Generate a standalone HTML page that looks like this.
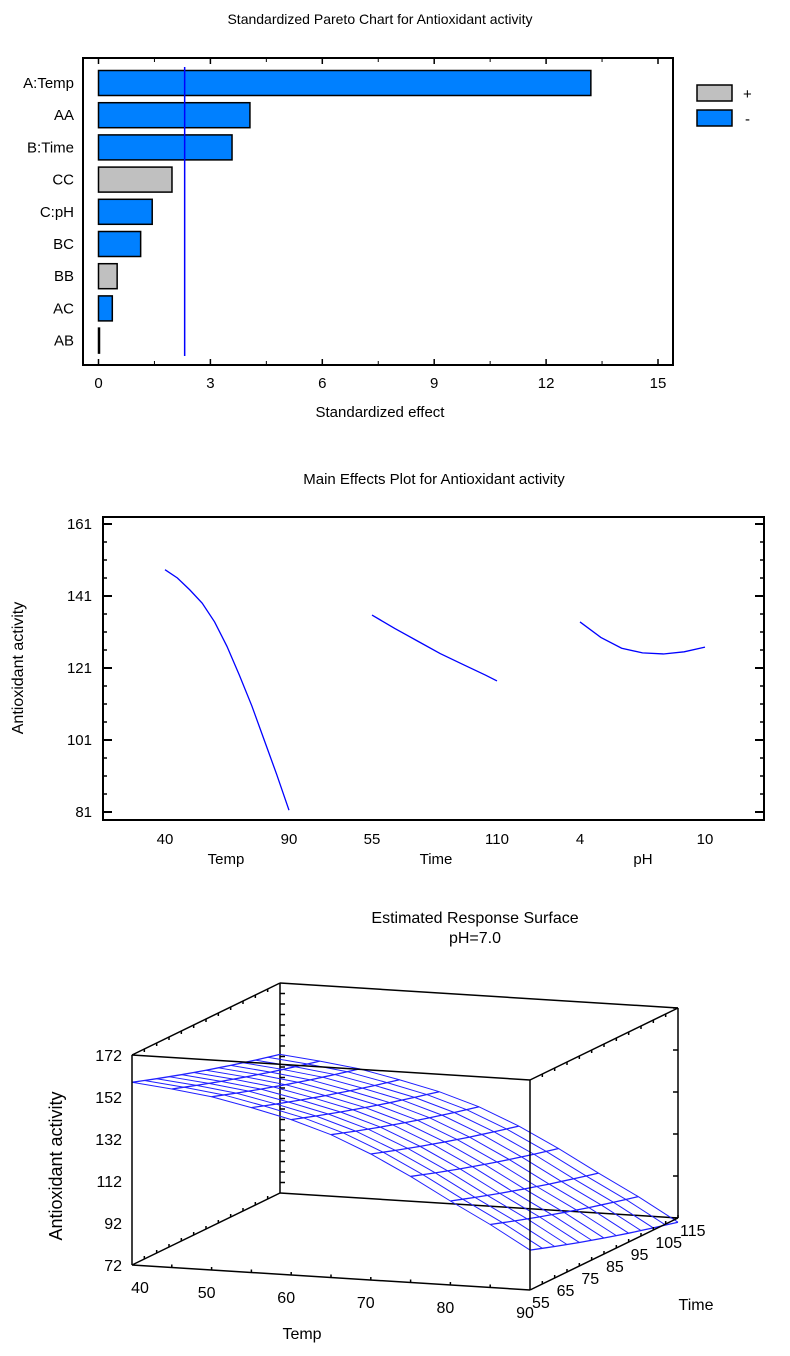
<!DOCTYPE html>
<html><head><meta charset="utf-8"><style>
body{margin:0;background:#fff;}
svg{display:block;font-family:"Liberation Sans",Arial,sans-serif;}
</style></head><body>
<svg id="root" width="790" height="1356" viewBox="0 0 790 1356" xmlns="http://www.w3.org/2000/svg">
<g id="pareto"></g>
<g id="main"></g>
<g id="surf"></g>
</svg>
<script>
// ---------- Pareto data ----------
const paretoTerms = ["A:Temp","AA","B:Time","CC","C:pH","BC","BB","AC","AB"];
const paretoEffects = [13.2,4.06,3.58,1.97,1.44,1.13,0.5,0.37,0.02];
const paretoSigns = ["-","-","-","+","-","-","+","-","-"];
const paretoTicks = [0,3,6,9,12,15];
const paretoCritical = 2.31;
// ---------- Main effects data ----------
const tempLevels = [40,45,50,55,60,65,70,75,80,85,90];
const tempEffect = [148.3,146,142.7,139,133.8,127,119,110.5,101,91.5,81.5];
const timeLevels = [55,65,75,85,95,105,110];
const timeEffect = [135.7,132,128.5,125,122,119,117.4];
const phLevels = [4,5,6,7,8,9,10];
const phEffect = [133.8,129.5,126.5,125.2,124.9,125.5,126.8];
const mainYTicks = [81,101,121,141,161];
// ---------- Surface data ----------
const surfTemps = [40,45,50,55,60,65,70,75,80,85,90];
const surfZAtTime55 = [159,157,154.5,150.5,146,140,132,122.5,112,102,91];
const surfTimes = [55,60,65,70,75,80,85,90,95,100,105,110,115];
const surfTimeShift = [0,-2,-4,-5.9,-7.8,-9.6,-11.4,-13.1,-14.8,-16.4,-18,-19.5,-21];
const surfZTicks = [72,92,112,132,152,172];
const surfTempTicks = [40,50,60,70,80,90];
const surfTimeTicks = [55,65,75,85,95,105,115];

const NS="http://www.w3.org/2000/svg";
function mk(parent,tag,attrs,text){const e=document.createElementNS(NS,tag);for(const k in attrs)e.setAttribute(k,attrs[k]);if(text!==undefined)e.textContent=text;parent.appendChild(e);return e;}

// ===== Pareto =====
(function(){
const g=document.getElementById('pareto');
const x=v=>98.5+v*37.3;
const rowY=i=>83+i*32.2;
let t=mk(g,'text',{x:380,y:24,'text-anchor':'middle','font-size':14});
t.textContent="Standardized Pareto Chart for Antioxidant activity";
let f=mk(g,'rect',{x:83,y:58,width:590,height:307,fill:'none',stroke:'#000','stroke-width':2});

paretoTicks.forEach(v=>{
  mk(g,'line',{x1:x(v),x2:x(v),y1:58,y2:64,stroke:'#000','stroke-width':1.5});
  mk(g,'line',{x1:x(v),x2:x(v),y1:359,y2:365,stroke:'#000','stroke-width':1.5});
  const l=mk(g,'text',{x:x(v),y:388,'text-anchor':'middle','font-size':15},String(v));
  
});
for(let v=1.5;v<15;v+=3){mk(g,'line',{x1:x(v),x2:x(v),y1:58,y2:62,stroke:'#000'});mk(g,'line',{x1:x(v),x2:x(v),y1:361,y2:365,stroke:'#000'});}
paretoTerms.forEach((name,i)=>{
  const b=mk(g,'rect',{x:x(0),y:rowY(i)-12.5,width:Math.max(1,x(paretoEffects[i])-x(0)),height:25,fill:paretoSigns[i]=='+'?'#c0c0c0':'#0080ff',stroke:'#000','stroke-width':1.5});
  
  const l=mk(g,'text',{x:74,y:rowY(i)+5,'text-anchor':'end','font-size':15},name);
  
});
const c=mk(g,'line',{x1:x(paretoCritical),x2:x(paretoCritical),y1:67,y2:356,stroke:'#0000ff','stroke-width':1.5});

const xt=mk(g,'text',{x:380,y:417,'text-anchor':'middle','font-size':15},"Standardized effect");

const lp=mk(g,'rect',{x:697,y:85,width:35,height:16,fill:'#c0c0c0',stroke:'#000','stroke-width':1.5});

const lm=mk(g,'rect',{x:697,y:110,width:35,height:16,fill:'#0080ff',stroke:'#000','stroke-width':1.5});

const t1=mk(g,'text',{x:743,y:99,'font-size':15},"+");
const t2=mk(g,'text',{x:745,y:124,'font-size':15},"-");
})();

// ===== Main effects =====
(function(){
const g=document.getElementById('main');
const y=v=>812-(v-81)*3.6;
const t=mk(g,'text',{x:434,y:484,'text-anchor':'middle','font-size':15},"Main Effects Plot for Antioxidant activity");

const f=mk(g,'rect',{x:103,y:517,width:661,height:303,fill:'none',stroke:'#000','stroke-width':2});

for(let v=81;v<=161;v+=5){const big=(v-81)%20==0;const len=big?9:4;
  mk(g,'line',{x1:103,x2:103+len,y1:y(v),y2:y(v),stroke:'#000','stroke-width':big?2:1.5});
  mk(g,'line',{x1:764-len,x2:764,y1:y(v),y2:y(v),stroke:'#000','stroke-width':big?2:1.5});}
mainYTicks.forEach(v=>{const l=mk(g,'text',{x:92,y:y(v)+5,'text-anchor':'end','font-size':15},String(v));});
const yt=mk(g,'text',{x:0,y:0,'text-anchor':'middle','font-size':16,transform:'translate(23,668) rotate(-90)'},"Antioxidant activity");

const groups=[
 {name:'temp',label:'Temp',lv:tempLevels,val:tempEffect,x0:165,x1:289,cx:226},
 {name:'time',label:'Time',lv:timeLevels,val:timeEffect,x0:372,x1:497,cx:436},
 {name:'ph',label:'pH',lv:phLevels,val:phEffect,x0:580,x1:705,cx:643}];
groups.forEach(gr=>{
  const a=gr.lv[0],b=gr.lv[gr.lv.length-1];
  const xf=v=>gr.x0+(v-a)/(b-a)*(gr.x1-gr.x0);
  const p=mk(g,'polyline',{points:gr.lv.map((v,i)=>xf(v)+','+y(gr.val[i])).join(' '),fill:'none',stroke:'#0000ff','stroke-width':1.3});
  
  [a,b].forEach(v=>{const l=mk(g,'text',{x:xf(v),y:844,'text-anchor':'middle','font-size':15},String(v));});
  const n=mk(g,'text',{x:gr.cx,y:864,'text-anchor':'middle','font-size':15},gr.label);
  
});
})();

// ===== Surface =====
(function(){
const g=document.getElementById('surf');
const P=(tp,tm,z)=>[132+(tp-40)/50*398+(tm-55)/60*148, 1265+(tp-40)/50*25-(tm-55)/60*72-(z-72)/100*210];
const t1=mk(g,'text',{x:475,y:923,'text-anchor':'middle','font-size':16},"Estimated Response Surface");

const t2=mk(g,'text',{x:475,y:943,'text-anchor':'middle','font-size':16},"pH=7.0");

const line=(a,b,nm)=>{const l=mk(g,'line',{x1:a[0],y1:a[1],x2:b[0],y2:b[1],stroke:'#000','stroke-width':1.5});};
const c=(tp,tm,z)=>P(tp,tm,z);
const tick=(p,dx,dy)=>mk(g,'line',{x1:p[0],y1:p[1],x2:p[0]+dx,y2:p[1]+dy,stroke:'#000','stroke-width':1.5});
// back edges
line(c(40,115,72),c(40,115,172),'box-back-left-edge');
line(c(40,115,172),c(90,115,172),'box-back-top-edge');
line(c(40,115,72),c(90,115,72),'box-back-bottom-edge');
line(c(90,115,72),c(90,115,172),'box-back-right-edge');
line(c(40,55,172),c(40,115,172),'box-left-top-edge');
line(c(40,55,72),c(40,115,72),'box-left-bottom-edge');
line(c(90,55,172),c(90,115,172),'box-right-top-edge');
for(let tm=60;tm<115;tm+=5){tick(c(40,tm,172),0,3);tick(c(40,tm,72),0,-3);tick(c(90,tm,172),0,3);}
for(let z=77;z<172;z+=5){tick(c(40,115,z),5,0);}
// surface mesh
const Z=(i,j)=>surfZAtTime55[i]+surfTimeShift[j];
surfTimes.forEach((tm,j)=>{
  const p=mk(g,'polyline',{points:surfTemps.map((tp,i)=>P(tp,tm,Z(i,j)).join(',')).join(' '),fill:'none',stroke:'#2020ff','stroke-width':1});
  
});
surfTemps.forEach((tp,i)=>{
  const p=mk(g,'polyline',{points:surfTimes.map((tm,j)=>P(tp,tm,Z(i,j)).join(',')).join(' '),fill:'none',stroke:'#2020ff','stroke-width':1.3});
  
});
// front edges
line(c(40,55,72),c(40,55,172),'box-front-left-edge');
line(c(40,55,172),c(90,55,172),'box-front-top-edge');
line(c(40,55,72),c(90,55,72),'box-front-bottom-edge');
line(c(90,55,72),c(90,55,172),'box-front-right-edge');
line(c(90,55,72),c(90,115,72),'box-right-bottom-edge');
for(let tm=60;tm<=115;tm+=5){tick(c(90,tm,72),0,-3);}
for(let tp=45;tp<90;tp+=5){tick(c(tp,55,72),0,-3);}
surfZTicks.forEach(v=>{const p=c(40,55,v);const l=mk(g,'text',{x:122,y:p[1]+6,'text-anchor':'end','font-size':16},String(v));
  const q=c(90,115,v);mk(g,'line',{x1:q[0]-5,x2:q[0],y1:q[1],y2:q[1],stroke:'#000','stroke-width':1.5});});
surfTempTicks.forEach(v=>{const p=c(v,55,72);const l=mk(g,'text',{x:p[0]+(v==40?8:-5),y:p[1]+28,'text-anchor':'middle','font-size':16},String(v));});
surfTimeTicks.forEach(v=>{const p=c(90,v,72);const l=mk(g,'text',{x:p[0]+2,y:p[1]+18,'text-anchor':'start','font-size':16},String(v));});
const a1=mk(g,'text',{x:302,y:1339,'text-anchor':'middle','font-size':16},"Temp");
const a2=mk(g,'text',{x:696,y:1310,'text-anchor':'middle','font-size':16},"Time");
const a3=mk(g,'text',{x:0,y:0,'text-anchor':'middle','font-size':18,transform:'translate(62,1166) rotate(-90)'},"Antioxidant activity");
})();
</script>
</body></html>
